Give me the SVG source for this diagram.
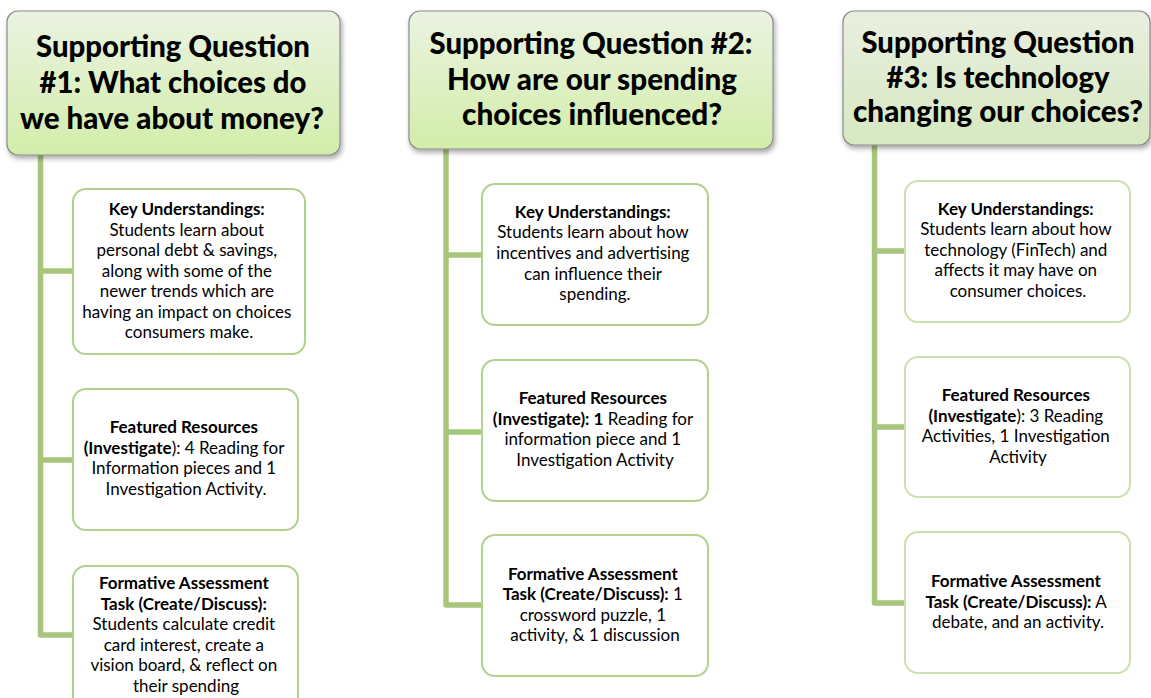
<svg xmlns="http://www.w3.org/2000/svg" width="1151" height="698" viewBox="0 0 1151 698">
  <defs>
    <linearGradient id="hdrFill" x1="0" y1="0" x2="0" y2="1">
      <stop offset="0" stop-color="#ebf3e2"/>
      <stop offset="1" stop-color="#d2eda9"/>
    </linearGradient>
    <linearGradient id="hdrFill3" x1="0" y1="0" x2="0" y2="1">
      <stop offset="0" stop-color="#e9efe0"/>
      <stop offset="1" stop-color="#d6e8c1"/>
    </linearGradient>
    <filter id="shadow" x="-10%" y="-10%" width="125%" height="130%">
      <feDropShadow dx="1.5" dy="3" stdDeviation="2.5" flood-color="#000" flood-opacity="0.35"/>
    </filter>
  </defs>
  <style>
    .hdr { stroke: #8c8c8c; stroke-width: 1.2; filter: url(#shadow); }
    .hdr-text { font-family: Lato, "Open Sans", sans-serif; font-weight: 900; font-size: 29.5px; fill: #000; text-anchor: middle; }
    .box { fill: #fff; stroke: #b3d08f; stroke-width: 2; }
    .box3 { fill: #fff; stroke: #cbe0ae; stroke-width: 2; }
    .txt { font-family: Lato, "Open Sans", sans-serif; font-size: 17px; fill: #000; text-anchor: middle; }
    .b { font-weight: bold; }
    .conn { fill: none; stroke: #a8c57c; stroke-width: 5.5; stroke-linejoin: round; }
  </style>
  <rect width="1151" height="698" fill="#fff"/>

  <!-- tree connectors -->
  <g id="connectors">
    <path class="conn" d="M40.5 155 V635 H73 M40.5 271 H73 M40.5 460 H73"/>
    <path class="conn" d="M446 149 V605 H482 M446 255 H482 M446 432 H482"/>
    <path class="conn" d="M874.5 145 V603 H905 M874.5 251 H905 M874.5 427 H905"/>
  </g>

  <!-- column 1 -->
  <g id="sq1">
    <rect class="hdr" x="7" y="11" width="333" height="144" rx="11" fill="url(#hdrFill)"/>
    <text class="hdr-text" x="173" y="57" textLength="274" lengthAdjust="spacingAndGlyphs">Supporting Question</text>
    <text class="hdr-text" x="173" y="93" textLength="267" lengthAdjust="spacingAndGlyphs">#1: What choices do</text>
    <text class="hdr-text" x="172" y="129" textLength="304" lengthAdjust="spacingAndGlyphs">we have about money?</text>
  </g>
  <g id="sq1-key">
    <rect class="box" x="73" y="189" width="232" height="165" rx="13"/>
    <text class="txt" x="189">
      <tspan class="b" x="189" y="215">Key Understandings:</tspan>
      <tspan x="189" y="236">Students learn about</tspan>
      <tspan x="189" y="256">personal debt &amp; savings,</tspan>
      <tspan x="189" y="277">along with some of the</tspan>
      <tspan x="189" y="297">newer trends which are</tspan>
      <tspan x="189" y="318">having an impact on choices</tspan>
      <tspan x="189" y="338">consumers make.</tspan>
    </text>
  </g>
  <g id="sq1-resources">
    <rect class="box" x="73" y="389" width="225" height="141" rx="13"/>
    <text class="txt">
      <tspan class="b" x="186" y="433">Featured Resources</tspan>
      <tspan x="186" y="454"><tspan class="b">(Investigate</tspan>): 4 Reading for</tspan>
      <tspan x="186" y="474">Information pieces and 1</tspan>
      <tspan x="186" y="495">Investigation Activity.</tspan>
    </text>
  </g>
  <g id="sq1-task">
    <rect class="box" x="73" y="566" width="225" height="145" rx="13"/>
    <text class="txt">
      <tspan class="b" x="186" y="589">Formative Assessment</tspan>
      <tspan class="b" x="186" y="610">Task (Create/Discuss):</tspan>
      <tspan x="186" y="630">Students calculate credit</tspan>
      <tspan x="186" y="651">card interest, create a</tspan>
      <tspan x="186" y="671">vision board, &amp; reflect on</tspan>
      <tspan x="186" y="692">their spending</tspan>
    </text>
  </g>

  <!-- column 2 -->
  <g id="sq2">
    <rect class="hdr" x="409" y="11" width="364" height="138" rx="11" fill="url(#hdrFill)"/>
    <text class="hdr-text" x="591" y="54" textLength="323" lengthAdjust="spacingAndGlyphs">Supporting Question #2:</text>
    <text class="hdr-text" x="592" y="90" textLength="290" lengthAdjust="spacingAndGlyphs">How are our spending</text>
    <text class="hdr-text" x="592" y="125" textLength="260" lengthAdjust="spacingAndGlyphs">choices influenced?</text>
  </g>
  <g id="sq2-key">
    <rect class="box" x="482" y="184" width="226" height="141" rx="13"/>
    <text class="txt">
      <tspan class="b" x="595" y="218">Key Understandings:</tspan>
      <tspan x="595" y="238">Students learn about how</tspan>
      <tspan x="595" y="259">incentives and advertising</tspan>
      <tspan x="595" y="280">can influence their</tspan>
      <tspan x="595" y="300">spending.</tspan>
    </text>
  </g>
  <g id="sq2-resources">
    <rect class="box" x="482" y="360" width="226" height="141" rx="13"/>
    <text class="txt">
      <tspan class="b" x="595" y="404">Featured Resources</tspan>
      <tspan x="595" y="425"><tspan class="b">(Investigate): 1</tspan> Reading for</tspan>
      <tspan x="595" y="445">information piece and 1</tspan>
      <tspan x="595" y="466">Investigation Activity</tspan>
    </text>
  </g>
  <g id="sq2-task">
    <rect class="box" x="482" y="535" width="226" height="141" rx="13"/>
    <text class="txt">
      <tspan class="b" x="595" y="580">Formative Assessment</tspan>
      <tspan x="595" y="600"><tspan class="b">Task (Create/Discuss):</tspan> 1</tspan>
      <tspan x="595" y="621">crossword puzzle, 1</tspan>
      <tspan x="595" y="641">activity, &amp; 1 discussion</tspan>
    </text>
  </g>

  <!-- column 3 -->
  <g id="sq3">
    <rect class="hdr" x="843" y="11" width="307" height="134" rx="11" fill="url(#hdrFill3)"/>
    <text class="hdr-text" x="998" y="53" textLength="273" lengthAdjust="spacingAndGlyphs">Supporting Question</text>
    <text class="hdr-text" x="998" y="88" textLength="223" lengthAdjust="spacingAndGlyphs">#3: Is technology</text>
    <text class="hdr-text" x="998" y="122" textLength="290" lengthAdjust="spacingAndGlyphs">changing our choices?</text>
  </g>
  <g id="sq3-key">
    <rect class="box3" x="905" y="181" width="225" height="141" rx="13"/>
    <text class="txt">
      <tspan class="b" x="1018" y="215">Key Understandings:</tspan>
      <tspan x="1018" y="235">Students learn about how</tspan>
      <tspan x="1018" y="256">technology (FinTech) and</tspan>
      <tspan x="1018" y="276">affects it may have on</tspan>
      <tspan x="1018" y="297">consumer choices.</tspan>
    </text>
  </g>
  <g id="sq3-resources">
    <rect class="box3" x="905" y="357" width="225" height="140" rx="13"/>
    <text class="txt">
      <tspan class="b" x="1018" y="401">Featured Resources</tspan>
      <tspan x="1018" y="422"><tspan class="b">(Investigate</tspan>): 3 Reading</tspan>
      <tspan x="1018" y="442">Activities, 1 Investigation</tspan>
      <tspan x="1018" y="463">Activity</tspan>
    </text>
  </g>
  <g id="sq3-task">
    <rect class="box3" x="905" y="532" width="225" height="141" rx="13"/>
    <text class="txt">
      <tspan class="b" x="1018" y="587">Formative Assessment</tspan>
      <tspan x="1018" y="608"><tspan class="b">Task (Create/Discuss):</tspan> A</tspan>
      <tspan x="1018" y="628">debate, and an activity.</tspan>
    </text>
  </g>
</svg>
